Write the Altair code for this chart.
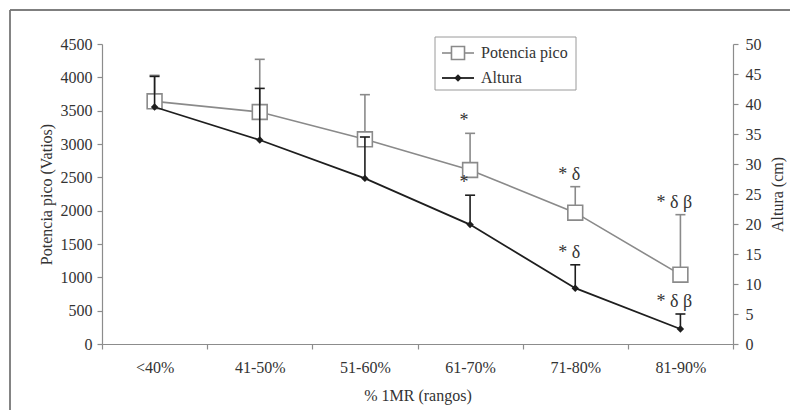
import json
import altair as alt
import pandas as pd

# ---- data ----
categories = ["<40%", "41-50%", "51-60%", "61-70%", "71-80%", "81-90%"]
potencia = [3640, 3480, 3070, 2610, 1970, 1040]          # W (left axis)
potencia_top = [4030, 4270, 3740, 3160, 2360, 1940]      # upper error bar
altura = [39.5, 34.0, 27.6, 19.9, 9.3, 2.5]              # cm (right axis)
altura_top = [44.6, 42.6, 34.5, 24.8, 13.2, 5.0]         # upper error bar
pot_marks = ["", "", "", "*", "* δ", "* δ β"]
alt_marks = ["", "", "", "*", "* δ", "* δ β"]
series = ["Potencia pico", "Altura"]

df = pd.DataFrame({
    "cat": categories,
    "pos": [i + 0.5 for i in range(len(categories))],
    "potencia": potencia,
    "potencia_top": potencia_top,
    "altura": altura,
    "altura_top": altura_top,
    "pot_mark": pot_marks,
    "alt_mark": alt_marks,
})

FONT = "Liberation Serif"
GRAY = "#8a8a8a"
DARK = "#1e1e1e"
W, H = 631, 300
n = len(categories)

label_expr = "datum.value < %d ? %s[datum.value] : ''" % (n, json.dumps(categories))

x_axis = alt.Axis(
    values=list(range(n + 1)),
    labelExpr=label_expr,
    labelOffset=W / n / 2,
    labelFlush=False,
    labelAlign="center",
    labelPadding=10,
    tickSize=5,
    title="% 1MR (rangos)",
    titlePadding=12,
)
x_scale = alt.Scale(domain=[0, n], nice=False, zero=False)
x_enc = alt.X("pos:Q", scale=x_scale, axis=x_axis)

pot_scale = alt.Scale(domain=[0, 4500], nice=False)
alt_scale = alt.Scale(domain=[0, 50], nice=False)
pot_axis = alt.Axis(
    orient="left",
    values=list(range(0, 4501, 500)),
    format="d",
    title="Potencia pico (Vatios)",
    tickSize=5,
    labelPadding=5,
    titlePadding=6,
)
alt_axis = alt.Axis(
    orient="right",
    values=list(range(0, 51, 5)),
    format="d",
    title="Altura (cm)",
    titleAngle=270,
    titleBaseline="top",
    tickSize=5,
    labelPadding=7,
    titlePadding=8,
)


def py(field):
    return alt.Y(field + ":Q", scale=pot_scale, axis=pot_axis)


def ay(field):
    return alt.Y(field + ":Q", scale=alt_scale, axis=alt_axis)


base = alt.Chart(df)

pot_line = base.mark_line(color=GRAY, strokeWidth=1.6).encode(x=x_enc, y=py("potencia"))
pot_rule = base.mark_rule(color=GRAY, strokeWidth=1.6).encode(
    x=x_enc, y=py("potencia"), y2="potencia_top:Q"
)
pot_cap = base.mark_tick(orient="horizontal", color=GRAY, size=10, thickness=1.6, opacity=1).encode(
    x=x_enc, y=py("potencia_top")
)
pot_pts = base.mark_point(
    shape="square", filled=True, fill="white", stroke=GRAY, strokeWidth=1.6, size=220, opacity=1
).encode(x=x_enc, y=py("potencia"))
pot_txt = base.mark_text(
    font=FONT, fontSize=18, color="#333", dy=-7, dx=-6, baseline="alphabetic", align="center"
).encode(x=x_enc, y=py("potencia_top"), text="pot_mark:N")

left = alt.layer(pot_line, pot_rule, pot_cap, pot_pts, pot_txt)

alt_line = base.mark_line(color=DARK, strokeWidth=1.8).encode(x=x_enc, y=ay("altura"))
alt_rule = base.mark_rule(color=DARK, strokeWidth=1.6).encode(
    x=x_enc, y=ay("altura"), y2="altura_top:Q"
)
alt_cap = base.mark_tick(orient="horizontal", color=DARK, size=10, thickness=1.6, opacity=1).encode(
    x=x_enc, y=ay("altura_top")
)
alt_pts = base.mark_point(shape="diamond", filled=True, color=DARK, size=55, opacity=1).encode(
    x=x_enc, y=ay("altura")
)
alt_txt = base.mark_text(
    font=FONT, fontSize=18, color="#333", dy=-7, dx=-6, baseline="alphabetic", align="center"
).encode(x=x_enc, y=ay("altura_top"), text="alt_mark:N")

right = alt.layer(alt_line, alt_rule, alt_cap, alt_pts, alt_txt)

# ---- decorations: outer frame and hand-made legend box ----
one = alt.Chart(alt.Data(values=[{"k": 1}]))
frame_top = one.mark_rule(color="#555", strokeWidth=1.6).encode(
    x=alt.value(-92), x2=alt.value(720), y=alt.value(-34)
)
frame_left = one.mark_rule(color="#777", strokeWidth=1.8).encode(
    x=alt.value(-92), y=alt.value(-34), y2=alt.value(400)
)
leg_box = one.mark_rect(fill="white", stroke="#9a9a9a", strokeWidth=1).encode(
    x=alt.value(333), x2=alt.value(474), y=alt.value(-7), y2=alt.value(46)
)
leg_l1 = one.mark_rule(color=GRAY, strokeWidth=1.6).encode(
    x=alt.value(340), x2=alt.value(372), y=alt.value(9)
)
leg_p1 = one.mark_point(
    shape="square", filled=True, fill="white", stroke=GRAY, strokeWidth=1.6, size=170, opacity=1
).encode(x=alt.value(356), y=alt.value(9))
leg_t1 = one.mark_text(font=FONT, fontSize=16, color="#333", align="left", baseline="middle").encode(
    x=alt.value(379), y=alt.value(9), text=alt.value(series[0])
)
leg_l2 = one.mark_rule(color=DARK, strokeWidth=1.8).encode(
    x=alt.value(340), x2=alt.value(372), y=alt.value(34)
)
leg_p2 = one.mark_point(shape="diamond", filled=True, color=DARK, size=55, opacity=1).encode(
    x=alt.value(356), y=alt.value(34)
)
leg_t2 = one.mark_text(font=FONT, fontSize=16, color="#333", align="left", baseline="middle").encode(
    x=alt.value(379), y=alt.value(34), text=alt.value(series[1])
)

chart = (
    alt.layer(left, right, frame_top, frame_left, leg_box, leg_l1, leg_p1, leg_t1, leg_l2, leg_p2, leg_t2)
    .resolve_scale(y="independent")
    .properties(
        width=W,
        height=H,
        autosize=alt.AutoSizeParams(type="none"),
        padding={"left": 94, "top": 36, "right": 57, "bottom": 66},
        background="white",
    )
    .configure_view(stroke=None)
    .configure_axis(
        labelFont=FONT,
        titleFont=FONT,
        labelFontSize=16,
        titleFontSize=16,
        titleFontWeight="normal",
        labelColor="#333",
        titleColor="#333",
        domainColor="#8c8c8c",
        tickColor="#8c8c8c",
        domainWidth=1.2,
        tickWidth=1.2,
        grid=False,
    )
)

chart.save("out.html", embed_options={"renderer": "svg", "actions": False})
